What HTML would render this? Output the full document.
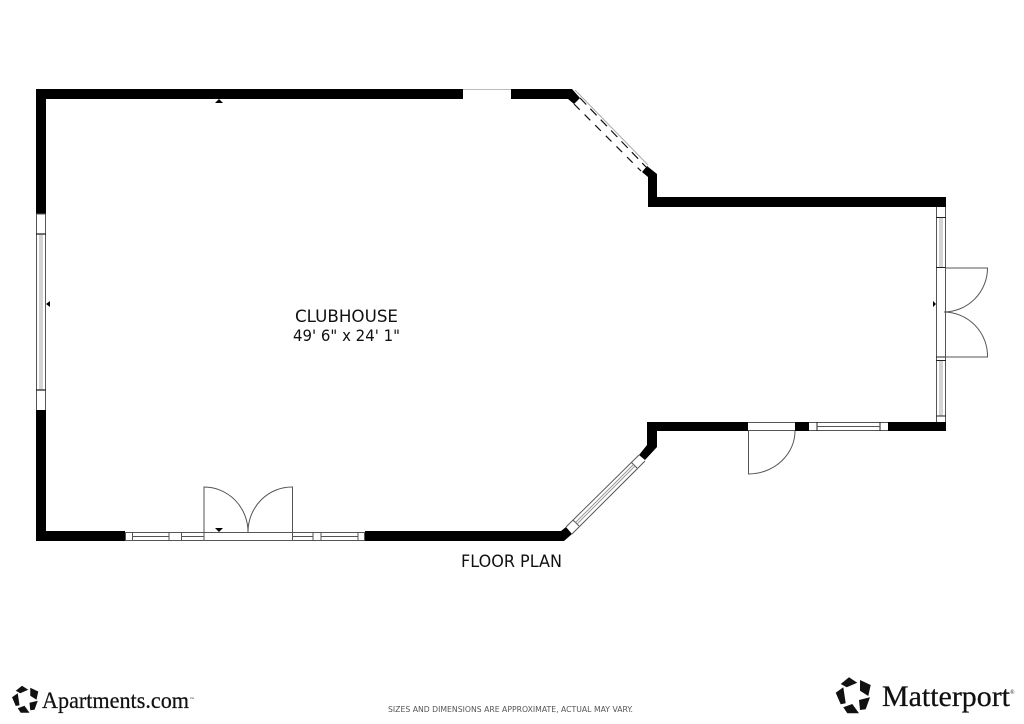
<!DOCTYPE html>
<html><head><meta charset="utf-8"><style>html,body{margin:0;padding:0;background:#fff}svg{display:block}</style></head>
<body>
<svg width="1024" height="724" viewBox="0 0 1024 724" xmlns="http://www.w3.org/2000/svg">
<rect width="1024" height="724" fill="#fff"/>
<defs><g id="logo" fill="#111">
<polygon points="840.7,684 849,677.3 857.3,682.7 846.7,687.3"/>
<polygon points="860,680 870.7,685 868.3,696 860,690.7"/>
<polygon points="859,700 870,697.3 865.7,709.3 860,710"/>
<polygon points="843.3,707.3 852.3,704 859,713.3 847.3,713.3"/>
<polygon points="835.7,692.7 843.3,687.3 845.7,703.3 840.7,704.3"/>
</g></defs>
<!-- walls -->
<g fill="#000">
<polygon points="36,89 463,89 463,99 46,99 46,214 36,214"/>
<polygon points="511,89 572,89 580,98 574,104 568,99 511,99"/>
<polygon points="647,166 657,174 657,197 946,197 946,207 648,207 648,177 642,172"/>
<polygon points="36,410 46,410 46,531 125,531 125,541 36,541"/>
<polygon points="365,531 561,531 566,527 572,534 564,541 365,541"/>
<polygon points="647,422 748,422 748,431 657,431 657,447 645,460 639,455 647,445"/>
<rect x="795" y="422" width="14" height="9"/>
<rect x="888" y="422" width="58" height="9"/>
</g>
<g fill="none" stroke="#555" stroke-width="1">
<!-- left window -->
<path d="M36.5,214V410M45.5,214V410M36,214H46"/>
<path d="M40,234V390M42,234V390" stroke="#aaa"/>
<path d="M36,234H46M36,390H46" stroke="#222" stroke-width="1.2"/>
<!-- top gap -->
<path d="M463,89.5H511" stroke="#bbb"/>
<!-- dashed window -->
<path d="M575,90L648,165" stroke="#aaa"/>
<path d="M580,98L646,167" stroke="#111" stroke-dasharray="9 6" stroke-width="1.2"/>
<path d="M574,104L641,171" stroke="#111" stroke-dasharray="8 7" stroke-width="1.2"/>
<!-- right side -->
<path d="M936.5,207V422M945.5,207V422"/>
<path d="M940,217V267M942,217V267M940,360V416M942,360V416" stroke="#aaa"/>
<path d="M936,217.5H946M936,267.5H946M936,357H946M936,360.5H946M936,416H946" stroke="#222"/>
<path d="M945,268H987.5A44,44 0 0 1 944,312A44,44 0 0 1 987.5,357H945"/>
<!-- bottom right -->
<path d="M748,422.5H795M748,430.5H795M809,422.5H888M809,430.5H888"/>
<path d="M817,422V431M880,422V431" stroke="#222"/>
<path d="M817,426.5H880" stroke="#555"/>
<path d="M748.5,431V474A47,43 0 0 0 795,431"/>
<!-- bottom -->
<path d="M125,532.5H365M125,540.5H365"/>
<path d="M125.5,532V541M132.5,532V541M169,532V541M181.5,532V541M204,532V541M292.5,532V541M313,532V541M321,532V541M358,532V541M364.5,532V541"/>
<path d="M132,536.5H169M181,536.5H204M292,536.5H313M321,536.5H358"/>
<path d="M204,532V487A44,45 0 0 1 248,532A44,45 0 0 1 292.5,487V532"/>
<!-- diagonal window -->
<path d="M566,527L639,455M572,534L645,461M573,520L579,526M631,462L637,468"/>
<path d="M575.5,522.5L633.5,464.5M577,524L635,466" stroke="#999"/>
</g>
<g fill="#000">
<polygon points="215,103 223,103 219,99"/>
<polygon points="46,304 50,301 50,307"/>
<polygon points="936,304 933,301 933,307"/>
<polygon points="215,528 223,528 219,532"/>
</g>
<g font-family="'DejaVu Sans',sans-serif" fill="#111">
<text x="295" y="322" font-size="17" textLength="103" lengthAdjust="spacingAndGlyphs">CLUBHOUSE</text>
<text x="293" y="341" font-size="16" textLength="107" lengthAdjust="spacingAndGlyphs">49' 6" x 24' 1"</text>
<text x="461" y="567" font-size="17" textLength="101" lengthAdjust="spacingAndGlyphs">FLOOR PLAN</text>
<text x="388" y="712" font-size="8" fill="#555" textLength="245" lengthAdjust="spacingAndGlyphs">SIZES AND DIMENSIONS ARE APPROXIMATE, ACTUAL MAY VARY.</text>
</g>
<use href="#logo" transform="translate(25,699) scale(.75) translate(-853,-695)"/>
<use href="#logo"/>
<g font-family="'Liberation Serif',serif" fill="#111" stroke="#111" stroke-width=".25">
<text x="42" y="708" font-size="23" textLength="147" lengthAdjust="spacingAndGlyphs">Apartments.com</text>
<text x="190" y="700" font-size="4" stroke="none">™</text>
<text x="882" y="706" font-size="30" textLength="128" lengthAdjust="spacingAndGlyphs">Matterport</text>
<text x="1010" y="694" font-size="6" stroke="none">®</text>
</g>
</svg>
</body></html>
